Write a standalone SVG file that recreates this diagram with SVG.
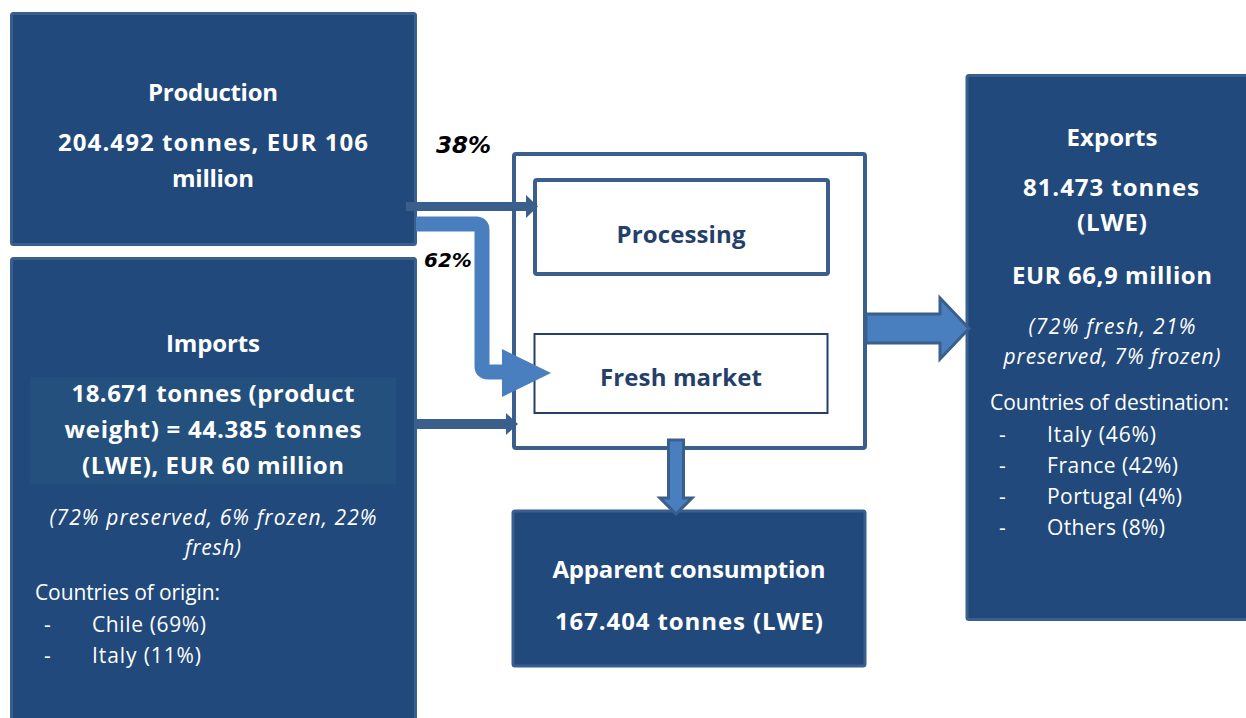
<svg xmlns="http://www.w3.org/2000/svg" width="1246" height="718" viewBox="0 0 1246 718">
  <style>
    .dark { fill: #21497b; stroke: #3b5f8d; stroke-width: 3; }
    .frame { fill: #ffffff; stroke: #3b5f8d; stroke-width: 4; }
    .t { font-family: "Open Sans", "Liberation Sans", sans-serif; fill: #ffffff; }
    .b { font-weight: bold; font-size: 24px; }
    .i { font-style: italic; font-size: 21px; }
    .r { font-size: 21px; }
    .c { text-anchor: middle; }
    .dk { fill: #24406a; }
    .pct { font-family: "DejaVu Sans", "Open Sans", sans-serif; font-weight: bold; font-style: italic; fill: #000000; }
    .fat { fill: #4a7fbf; stroke: #3b5f8d; stroke-width: 3; }
    .thin { fill: #3b5f8d; }
  </style>

  <!-- Production -->
  <g id="production">
    <rect class="dark" x="11.5" y="13.5" width="404" height="231" rx="2"/>
    <text class="t b c" x="213" y="101" textLength="130">Production</text>
    <text class="t b c" x="213" y="151" textLength="310">204.492 tonnes, EUR 106</text>
    <text class="t b c" x="213" y="187" textLength="82">million</text>
  </g>

  <!-- Imports -->
  <g id="imports">
    <rect class="dark" x="11.5" y="258.5" width="404" height="470" rx="2"/>
    <rect x="30" y="377" width="366" height="107" fill="#24507d"/>
    <text class="t b c" x="213" y="352" textLength="94">Imports</text>
    <text class="t b c" x="213" y="402" textLength="283">18.671 tonnes (product</text>
    <text class="t b c" x="213" y="438" textLength="297">weight) = 44.385 tonnes</text>
    <text class="t b c" x="213" y="474" textLength="262">(LWE), EUR 60 million</text>
    <text class="t i c" x="213" y="525" textLength="327">(72% preserved, 6% frozen, 22%</text>
    <text class="t i c" x="213" y="555" textLength="56">fresh)</text>
    <text class="t r" x="35" y="600" textLength="185">Countries of origin:</text>
    <text class="t r" x="44" y="632">-</text>
    <text class="t r" x="92" y="632" textLength="114">Chile (69%)</text>
    <text class="t r" x="44" y="663">-</text>
    <text class="t r" x="92" y="663" textLength="109">Italy (11%)</text>
  </g>

  <!-- Processing stage frame -->
  <g id="processing-stage">
    <rect class="frame" x="514" y="154" width="351" height="294" rx="2"/>
  </g>

  <g id="processing">
    <rect x="535" y="180" width="293" height="94" fill="#ffffff" stroke="#3b5f8d" stroke-width="4" rx="2"/>
    <text class="t b c dk" x="681" y="243" textLength="129">Processing</text>
  </g>

  <g id="fresh-market">
    <rect x="534.5" y="334" width="293" height="79" fill="#ffffff" stroke="#24406a" stroke-width="2"/>
    <text class="t b c dk" x="681" y="386" textLength="162">Fresh market</text>
  </g>

  <!-- Apparent consumption -->
  <g id="consumption">
    <rect class="dark" x="513" y="511" width="352" height="155" rx="2"/>
    <text class="t b c" x="689" y="578" textLength="273">Apparent consumption</text>
    <text class="t b c" x="689" y="630" textLength="268">167.404 tonnes (LWE)</text>
  </g>

  <!-- Exports -->
  <g id="exports">
    <rect class="dark" x="967" y="75.5" width="284" height="544" rx="2"/>
    <text class="t b c" x="1112" y="146" textLength="91">Exports</text>
    <text class="t b c" x="1111" y="196" textLength="176">81.473 tonnes</text>
    <text class="t b c" x="1112" y="231" textLength="70">(LWE)</text>
    <text class="t b c" x="1112" y="284" textLength="200">EUR 66,9 million</text>
    <text class="t i c" x="1112" y="334" textLength="167">(72% fresh, 21%</text>
    <text class="t i c" x="1112" y="364" textLength="217">preserved, 7% frozen)</text>
    <text class="t r" x="990" y="410" textLength="239">Countries of destination:</text>
    <text class="t r" x="999" y="442">-</text>
    <text class="t r" x="1047" y="442" textLength="109">Italy (46%)</text>
    <text class="t r" x="999" y="473">-</text>
    <text class="t r" x="1047" y="473" textLength="131">France (42%)</text>
    <text class="t r" x="999" y="504">-</text>
    <text class="t r" x="1047" y="504" textLength="135">Portugal (4%)</text>
    <text class="t r" x="999" y="535">-</text>
    <text class="t r" x="1047" y="535" textLength="118">Others (8%)</text>
  </g>

  <!-- Connectors -->
  <g id="connectors">
    <!-- 38% to processing -->
    <rect class="thin" x="406" y="202" width="122" height="9"/>
    <polygon class="thin" points="526,195 538,206.5 526,218"/>
    <!-- 62% to fresh market -->
    <path d="M416,224 H476 Q482,224 482,230 V366 Q482,372 488,372 H503" fill="none" stroke="#4a7fbf" stroke-width="15"/>
    <polygon fill="#4a7fbf" points="502,349 551,373 502,397"/>
    <!-- imports to stage -->
    <rect class="thin" x="416" y="419" width="92" height="10"/>
    <polygon class="thin" points="506,413 518,424 506,435"/>
    <!-- stage to consumption -->
    <path class="fat" d="M668.5,440 H683.5 V498 H692 L676,514 L660,498 H668.5 Z"/>
    <!-- stage to exports -->
    <path class="fat" d="M866,314 H940 V298 L969,328.5 L940,359 V343 H866 Z"/>
    <text class="pct" x="436" y="153" font-size="23">38%</text>
    <text class="pct" x="424" y="267" font-size="20">62%</text>
  </g>
</svg>
